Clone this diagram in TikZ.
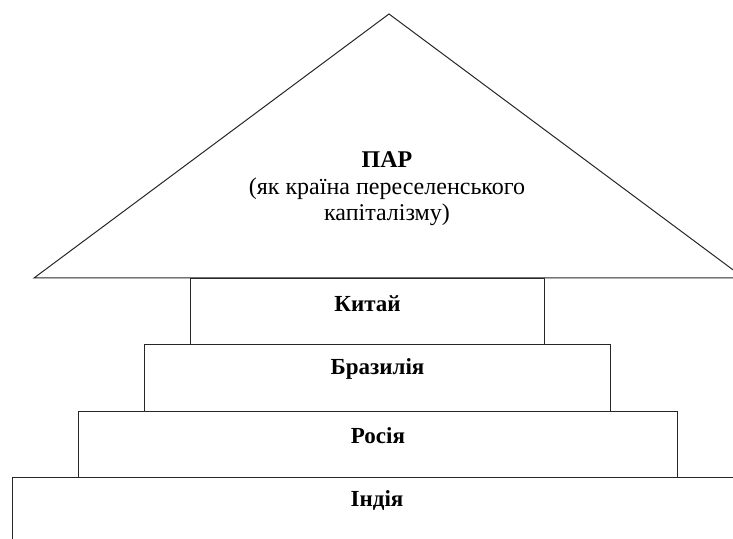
\documentclass[tikz,border=0pt]{standalone}
\usepackage{fontspec}
\setmainfont{Liberation Serif}
\begin{document}
\begin{tikzpicture}[x=1pt,y=1pt,
  edge/.style={draw=black!85,line width=1pt},
  boxnode/.style={edge,rectangle,inner sep=0pt,anchor=north west},
  lbl/.style={font=\fontsize{23}{26}\selectfont\bfseries,inner sep=0pt},
  roof/.style={font=\fontsize{24}{26.5}\selectfont,align=center,inner sep=0pt}]
\useasboundingbox (0,0) rectangle (733,538);
\clip (0,0) rectangle (733,538);
% roof
\coordinate (apex) at (389,524);
\coordinate (lc) at (34,260);
\coordinate (rc) at (744,260);
\draw[edge,line join=miter] (lc) -- (apex) -- (rc) -- cycle;
\node[roof] (par) at (387,349) {\textbf{ПАР}\\(як країна переселенського\\капіталізму)};
% boxes
\node[boxnode,minimum width=354,minimum height=66] (kit) at (190,260) {};
\node[boxnode,minimum width=466,minimum height=67] (bra) at (144,194) {};
\node[boxnode,minimum width=599,minimum height=66] (ros) at (78,127) {};
\node[boxnode,minimum width=760,minimum height=100] (ind) at (12,61) {};
% labels
\node[lbl] at ([yshift=-26]kit.north) {Китай};
\node[lbl] at ([yshift=-25]bra.north) {Бразилія};
\node[lbl] at ([yshift=-25]ros.north) {Росія};
\node[lbl] at (377,37) {Індія};
\end{tikzpicture}
\end{document}
